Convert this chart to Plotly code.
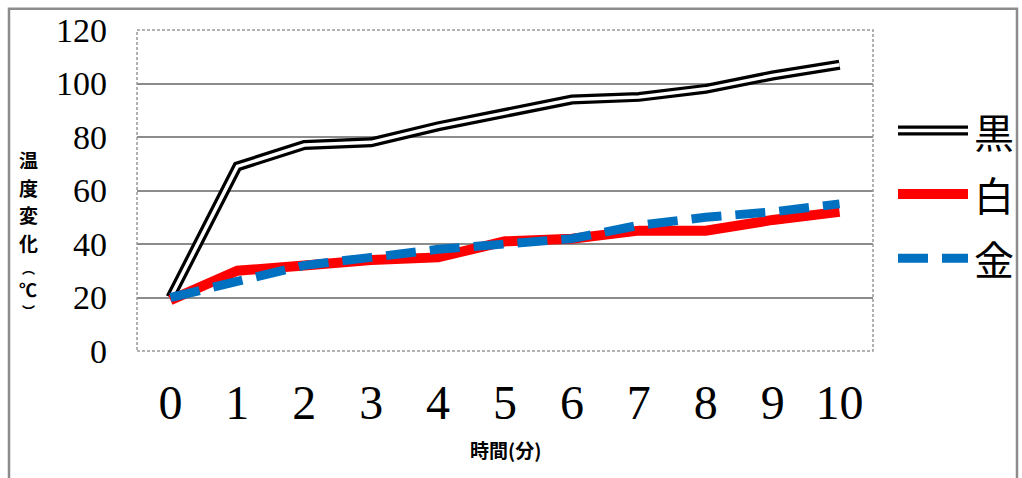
import plotly.graph_objects as go

# Elapsed time in minutes (category axis)
minutes = [0, 1, 2, 3, 4, 5, 6, 7, 8, 9, 10]
tick_labels = [str(m) for m in minutes]

# Temperature readings (°C) for each coloured cup
series_names = ["黒", "白", "金"]
black_vals = [20, 69, 77, 78, 84, 89, 94, 95, 98, 103, 107]
white_vals = [19, 30, 32, 34, 35, 41, 42, 45, 45, 49, 52]
gold_vals = [20, 26, 32, 35, 38, 40, 42, 47, 50, 52, 55]

y_ticks = [0, 20, 40, 60, 80, 100, 120]

RED = "#FF0000"
BLUE = "#0070C0"
GRID = "#8c8c8c"
SERIF = "Liberation Serif, DejaVu Serif, serif"
CJK = "Noto Sans CJK JP, Noto Sans, sans-serif"

# plot-area geometry in pixels (used to place paper-referenced decorations)
PL, PR, PT, PB = 137, 873, 27.5, 351.5


def px_x(p):
    return (p - PL) / (PR - PL)


def px_y(p):
    return (PB - p) / (PB - PT)


fig = go.Figure()

# Black series: a double line (black outline with white core)
fig.add_trace(go.Scatter(x=minutes, y=black_vals, mode="lines", name=series_names[0],
                         line=dict(color="black", width=10), hoverinfo="skip"))
fig.add_trace(go.Scatter(x=minutes, y=black_vals, mode="lines", name=series_names[0],
                         line=dict(color="white", width=3.5)))
fig.add_trace(go.Scatter(x=minutes, y=white_vals, mode="lines", name=series_names[1],
                         line=dict(color=RED, width=10)))
fig.add_trace(go.Scatter(x=minutes, y=gold_vals, mode="lines", name=series_names[2],
                         line=dict(color=BLUE, width=9, dash="30px,14px")))

shapes = []
# outer chart frame
shapes.append(dict(type="rect", xref="paper", yref="paper",
                   x0=px_x(9), x1=px_x(1017), y0=px_y(490), y1=px_y(6),
                   line=dict(color=GRID, width=2.5), layer="below"))
# dashed plot-area border
shapes.append(dict(type="rect", xref="paper", yref="paper", x0=0, x1=1, y0=0, y1=1,
                   line=dict(color="#999999", width=1.5, dash="3px,2px")))

# legend samples drawn at the right of the plot area
legend_y = [px_y(129), px_y(193), px_y(258)]
lx0, lx1 = px_x(898), px_x(968)
shapes.append(dict(type="line", xref="paper", yref="paper", x0=lx0, x1=lx1,
                   y0=legend_y[0], y1=legend_y[0], line=dict(color="black", width=10)))
shapes.append(dict(type="line", xref="paper", yref="paper", x0=lx0, x1=lx1,
                   y0=legend_y[0], y1=legend_y[0], line=dict(color="white", width=3.5)))
shapes.append(dict(type="line", xref="paper", yref="paper", x0=lx0, x1=lx1,
                   y0=legend_y[1], y1=legend_y[1], line=dict(color=RED, width=10)))
shapes.append(dict(type="line", xref="paper", yref="paper", x0=lx0, x1=lx1,
                   y0=legend_y[2], y1=legend_y[2], line=dict(color=BLUE, width=9, dash="30px,14px")))

annotations = []
for name, yy in zip(series_names, legend_y):
    annotations.append(dict(text=name, xref="paper", yref="paper", x=px_x(972), y=yy,
                            xanchor="left", yanchor="middle", showarrow=False,
                            font=dict(family=CJK, size=40, color="black")))

# vertical y-axis title, one glyph per row
title_chars = ["温", "度", "変", "化", "︵", "℃", "︶"]
title_rows = [158, 186, 214, 242, 267, 289, 311]
title_sizes = [19, 19, 19, 19, 13, 18, 13]
for ch, row, sz in zip(title_chars, title_rows, title_sizes):
    annotations.append(dict(text="<b>" + ch + "</b>", xref="paper", yref="paper",
                            x=px_x(28), y=px_y(row), xanchor="center", yanchor="middle",
                            showarrow=False, font=dict(family=CJK, size=sz, color="black")))

annotations.append(dict(text="<b>時間(分)</b>", xref="paper", yref="paper",
                        x=px_x(505), y=px_y(451), xanchor="center", yanchor="middle",
                        showarrow=False, font=dict(family=CJK, size=19, color="black")))

fig.update_layout(
    width=1022, height=478,
    margin=dict(l=PL, r=1022 - PR, t=PT, b=478 - PB),
    paper_bgcolor="white", plot_bgcolor="white",
    shapes=shapes, annotations=annotations, showlegend=False,
    xaxis=dict(range=[-0.5, 10.5], tickmode="array", tickvals=minutes, ticktext=tick_labels,
               showgrid=False, zeroline=False, showline=False, ticks="",
               tickfont=dict(family=SERIF, size=48, color="black"), ticklabelstandoff=19),
    yaxis=dict(range=[0, 120], tickmode="array", tickvals=y_ticks, ticktext=[str(v) for v in y_ticks],
               showgrid=True, gridcolor=GRID, gridwidth=1.5, zeroline=False, showline=False, ticks="",
               tickfont=dict(family=SERIF, size=34, color="black"), ticklabelstandoff=29),
)

fig.write_html("out.html")
